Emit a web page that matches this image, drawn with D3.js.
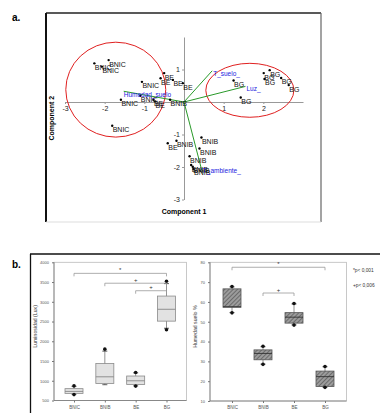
<!DOCTYPE html>
<html>
<head>
<meta charset="utf-8">
<script src="https://cdn.jsdelivr.net/npm/d3@7"></script>
<style>
  body { margin: 0; background: #fff; }
  svg { display: block; font-family: Arial, "Liberation Sans", sans-serif; }
</style>
</head>
<body>
<script>
// ---- panel a: PCA biplot ----
const pcaGroup = ["BNIC","BNIC","BNIC","BNIC","BNIC","BNIC","BNIC",
                  "BE","BE","BE","BE","BE","BE","BE",
                  "BNIB","BNIB","BNIB","BNIB","BNIB","BNIB","BNIB","BNIB",
                  "BG","BG","BG","BG","BG","BG","BG"];
const pcaX = [-2.26, -1.90, -2.07, -1.06, -1.59, -1.10, -1.81,
              -0.50, -0.59, -0.28, -0.03, -0.77, -0.73, -0.41,
              -0.35, -0.19, 0.44, 0.39, 0.14, 0.18, 0.22, 0.24,
              1.25, 1.43, 2.01, 2.16, 2.03, 2.45, 2.64];
const pcaY = [1.19, 1.29, 1.09, 0.62, 0.07, 0.19, -0.73,
              0.89, 0.73, 0.68, 0.58, 0.07, 0.02, -1.27,
              0.07, -1.19, -1.09, -1.43, -1.67, -1.94, -1.99, -2.06,
              0.66, 0.14, 0.89, 0.98, 0.71, 0.74, 0.52];

const vecNames = ["Humedad_suelo", "T_suelo_", "Luz_", "T_ambiente_"];
const vecX = [-1.52, 0.71, 1.55, 0.45];
const vecY = [0.33, 0.96, 0.48, -2.11];

const ellCx = [-1.72, 1.66];
const ellCy = [0.38, 0.36];
const ellRx = [1.26, 1.11];
const ellRy = [1.46, 0.83];

const pcaXTicks = [-3, -2, -1, 1, 2];
const pcaYTicks = [-3, -2, -1, 1];

// ---- panel b: box plots ----
const sites = ["BNIC", "BNIB", "BE", "BG"];

const luzQ1  = [680, 930, 905, 2510];
const luzMed = [730, 1100, 1000, 2810];
const luzQ3  = [800, 1435, 1120, 3145];
const luzLo  = [660, 900, 870, 2330];
const luzHi  = [860, 1750, 1200, 3460];
const luzPtLo = [650, null, 865, 2290];
const luzPtHi = [870, 1800, 1210, 3520];
const luzTicks = [500, 1000, 1500, 2000, 2500, 3000, 3500, 4000];

const humQ1  = [57.3, 30.8, 49.3, 17.3];
const humMed = [57.6, 34.0, 52.3, 22.3];
const humQ3  = [66.6, 35.8, 54.6, 25.1];
const humLo  = [54.6, 28.6, 48.4, 17.0];
const humHi  = [67.6, 37.4, 59.0, 27.3];
const humPtLo = [54.5, 28.5, 48.3, 16.9];
const humPtHi = [67.8, 37.6, 59.2, 27.4];
const humTicks = [10, 20, 30, 40, 50, 60, 70, 80];

// brackets: [from, to, level, symbol]
const luzBrackets = [["BNIC", "BG", 3720, "*"], ["BNIB", "BG", 3470, "+"], ["BE", "BG", 3280, "+"]];
const humBrackets = [["BNIC", "BG", 77.5, "*"], ["BNIB", "BE", 64.5, "+"]];
const legendLines = ["*p< 0,001", "+p< 0,006"];

const W = 380, H = 419;
const svg = d3.select("body").append("svg").attr("width", W).attr("height", H);

// ================= panel a =================
svg.append("text").attr("x", 12).attr("y", 21)
  .attr("font-size", 10).attr("font-weight", "bold").text("a.");

// frame
svg.append("line").attr("x1", 46).attr("x2", 321).attr("y1", 13).attr("y2", 13)
  .attr("stroke", "#222").attr("stroke-width", 1.4);
svg.append("line").attr("x1", 46).attr("x2", 46).attr("y1", 13).attr("y2", 222)
  .attr("stroke", "#111").attr("stroke-width", 2);
svg.append("line").attr("x1", 321).attr("x2", 321).attr("y1", 13).attr("y2", 222)
  .attr("stroke", "#666").attr("stroke-width", 1.2);
svg.append("line").attr("x1", 46).attr("x2", 321).attr("y1", 222).attr("y2", 222)
  .attr("stroke", "#ddd").attr("stroke-width", 1);

const xA = d3.scaleLinear().domain([-3, 3]).range([65, 303]);
const yA = d3.scaleLinear().domain([-3, 2]).range([199.5, 37]);

const gA = svg.append("g");

const axX = gA.append("g").attr("transform", `translate(0,${yA(0)})`)
  .call(d3.axisBottom(xA).tickValues(pcaXTicks).tickFormat(d => String(d))
    .tickSize(2).tickSizeOuter(0).tickPadding(2));
const axY = gA.append("g").attr("transform", `translate(${xA(0)},0)`)
  .call(d3.axisLeft(yA).tickValues(pcaYTicks).tickFormat(d => String(d))
    .tickSize(2).tickSizeOuter(0).tickPadding(2));
[axX, axY].forEach(ax => {
  ax.select(".domain").attr("stroke", "#999");
  ax.selectAll(".tick line").attr("stroke", "#999");
  ax.selectAll(".tick text").attr("font-size", 7).attr("fill", "#222")
    .attr("font-family", "Arial, 'Liberation Sans', sans-serif");
});

// ellipses
gA.selectAll("ellipse.grp").data(ellCx).join("ellipse")
  .attr("cx", (d, i) => xA(ellCx[i]))
  .attr("cy", (d, i) => yA(ellCy[i]))
  .attr("rx", (d, i) => xA(ellRx[i]) - xA(0))
  .attr("ry", (d, i) => yA(0) - yA(ellRy[i]))
  .attr("fill", "none").attr("stroke", "#e02020").attr("stroke-width", 1);

// loading vectors
gA.selectAll("line.vec").data(vecNames).join("line")
  .attr("x1", xA(0)).attr("y1", yA(0))
  .attr("x2", (d, i) => xA(vecX[i])).attr("y2", (d, i) => yA(vecY[i]))
  .attr("stroke", "#2a9a2a").attr("stroke-width", 1);

// points
const pts = d3.range(pcaX.length);
gA.selectAll("circle.pt").data(pts).join("circle")
  .attr("cx", i => xA(pcaX[i])).attr("cy", i => yA(pcaY[i]))
  .attr("r", 1.2).attr("fill", "#000");
gA.selectAll("text.pt").data(pts).join("text")
  .attr("x", i => xA(pcaX[i]) + 0.5).attr("y", i => yA(pcaY[i]) + 6.5)
  .attr("font-size", 7).attr("fill", "#111").text(i => pcaGroup[i]);

// vector labels
gA.selectAll("text.vec").data(vecNames).join("text")
  .attr("x", (d, i) => xA(vecX[i]) + (i === 0 ? 0 : 1))
  .attr("y", (d, i) => yA(vecY[i]) + (i === 0 ? 6 : i === 3 ? 2 : 5))
  .attr("font-size", 6.5).attr("fill", "#1a1ae0").text(d => d);

// axis titles
gA.append("text").attr("x", xA(0)).attr("y", 214).attr("text-anchor", "middle")
  .attr("font-size", 7).attr("font-weight", "bold").text("Component 1");
gA.append("text").attr("transform", `translate(54,${yA(-0.5)}) rotate(-90)`)
  .attr("text-anchor", "middle")
  .attr("font-size", 7).attr("font-weight", "bold").text("Component 2");

// ================= panel b =================
svg.append("text").attr("x", 12).attr("y", 268)
  .attr("font-size", 10).attr("font-weight", "bold").text("b.");
svg.append("line").attr("x1", 30).attr("x2", 380).attr("y1", 254).attr("y2", 254)
  .attr("stroke", "#111").attr("stroke-width", 1.3);
svg.append("line").attr("x1", 30.5).attr("x2", 30.5).attr("y1", 254).attr("y2", 413)
  .attr("stroke", "#111").attr("stroke-width", 1.3);

const defs = svg.append("defs");
const pat = defs.append("pattern").attr("id", "hatch")
  .attr("patternUnits", "userSpaceOnUse").attr("width", 3).attr("height", 3)
  .attr("patternTransform", "rotate(45)");
pat.append("rect").attr("width", 3).attr("height", 3).attr("fill", "#9c9c9c");
pat.append("line").attr("x1", 0).attr("x2", 0).attr("y1", 0).attr("y2", 3)
  .attr("stroke", "#555").attr("stroke-width", 1.4);

function boxPanel(opt) {
  const { x0, x1, yTop, yBot, xr, yDomain, ticks, q1, med, q3, lo, hi, ptLo, ptHi,
          fill, stroke, medStroke, title, titleX, brackets } = opt;
  const g = svg.append("g");
  const x = d3.scalePoint().domain(sites).range(xr);
  const y = d3.scaleLinear().domain(yDomain).range([yBot, yTop]);

  // frame
  g.append("rect").attr("x", x0).attr("y", yTop).attr("width", x1 - x0).attr("height", yBot - yTop)
    .attr("fill", "none").attr("stroke", "#bbb").attr("stroke-width", 0.8);
  g.append("line").attr("x1", x0).attr("x2", x0).attr("y1", yTop).attr("y2", yBot)
    .attr("stroke", "#777").attr("stroke-width", 0.8);
  g.append("line").attr("x1", x0).attr("x2", x1).attr("y1", yBot).attr("y2", yBot)
    .attr("stroke", "#777").attr("stroke-width", 0.8);

  const ay = g.append("g").attr("transform", `translate(${x0},0)`)
    .call(d3.axisLeft(y).tickValues(ticks).tickSize(2).tickSizeOuter(0).tickPadding(3)
      .tickFormat(d => String(d)));
  ay.select(".domain").remove();
  ay.selectAll(".tick line").attr("stroke", "#777");
  ay.selectAll(".tick text").attr("font-size", 4).attr("fill", "#555")
    .attr("font-family", "Arial, 'Liberation Sans', sans-serif");

  const ax = g.append("g").attr("transform", `translate(0,${yBot})`)
    .call(d3.axisBottom(x).tickSize(2).tickSizeOuter(0).tickPadding(3));
  ax.select(".domain").remove();
  ax.selectAll(".tick line").attr("stroke", "#777");
  ax.selectAll(".tick text").attr("font-size", 4.5).attr("fill", "#555")
    .attr("font-family", "Arial, 'Liberation Sans', sans-serif");

  const bw = 18;
  const idx = d3.range(sites.length);
  // whiskers
  g.selectAll("line.wh").data(idx).join("line")
    .attr("x1", i => x(sites[i])).attr("x2", i => x(sites[i]))
    .attr("y1", i => y(lo[i])).attr("y2", i => y(hi[i]))
    .attr("stroke", "#777").attr("stroke-width", 0.8);
  g.selectAll("line.caphi").data(idx).join("line")
    .attr("x1", i => x(sites[i]) - 2.5).attr("x2", i => x(sites[i]) + 2.5)
    .attr("y1", i => y(hi[i])).attr("y2", i => y(hi[i]))
    .attr("stroke", "#333").attr("stroke-width", 0.8);
  g.selectAll("line.caplo").data(idx).join("line")
    .attr("x1", i => x(sites[i]) - 2.5).attr("x2", i => x(sites[i]) + 2.5)
    .attr("y1", i => y(lo[i])).attr("y2", i => y(lo[i]))
    .attr("stroke", "#333").attr("stroke-width", 0.8);
  // boxes
  g.selectAll("rect.box").data(idx).join("rect")
    .attr("x", i => x(sites[i]) - bw / 2).attr("width", bw)
    .attr("y", i => y(q3[i])).attr("height", i => y(q1[i]) - y(q3[i]))
    .attr("fill", fill).attr("stroke", stroke).attr("stroke-width", 0.8);
  g.selectAll("line.med").data(idx).join("line")
    .attr("x1", i => x(sites[i]) - bw / 2).attr("x2", i => x(sites[i]) + bw / 2)
    .attr("y1", i => y(med[i])).attr("y2", i => y(med[i]))
    .attr("stroke", medStroke).attr("stroke-width", 0.9);
  // extreme dots
  const dots = [];
  idx.forEach(i => {
    if (ptLo[i] != null) dots.push([sites[i], ptLo[i]]);
    if (ptHi[i] != null) dots.push([sites[i], ptHi[i]]);
  });
  g.selectAll("circle.ext").data(dots).join("circle")
    .attr("cx", d => x(d[0])).attr("cy", d => y(d[1])).attr("r", 1.8).attr("fill", "#111");

  // significance brackets
  brackets.forEach(([a, b, lev, sym]) => {
    const yy = y(lev);
    g.append("path")
      .attr("d", `M${x(a)},${yy + 3}V${yy}H${x(b)}V${yy + 3}`)
      .attr("fill", "none").attr("stroke", "#999").attr("stroke-width", 0.8);
    g.append("text").attr("x", (x(a) + x(b)) / 2).attr("y", yy - 1.5)
      .attr("text-anchor", "middle").attr("font-size", 6).attr("fill", "#333").text(sym);
  });

  g.append("text").attr("transform", `translate(${titleX},${(yTop + yBot) / 2 - 5}) rotate(-90)`)
    .attr("text-anchor", "middle").attr("font-size", 5.2).attr("fill", "#333").text(title);
  return g;
}

boxPanel({
  x0: 54, x1: 186.5, yTop: 262.3, yBot: 400.5, xr: [74, 166.5],
  yDomain: [500, 4000], ticks: luzTicks,
  q1: luzQ1, med: luzMed, q3: luzQ3, lo: luzLo, hi: luzHi, ptLo: luzPtLo, ptHi: luzPtHi,
  fill: "#e2e2e2", stroke: "#8a8a8a", medStroke: "#888",
  title: "Luminosidad (Lux)", titleX: 37, brackets: luzBrackets
});

boxPanel({
  x0: 210, x1: 346.5, yTop: 262.3, yBot: 401, xr: [232, 325],
  yDomain: [10, 80], ticks: humTicks,
  q1: humQ1, med: humMed, q3: humQ3, lo: humLo, hi: humHi, ptLo: humPtLo, ptHi: humPtHi,
  fill: "url(#hatch)", stroke: "#555", medStroke: "#333",
  title: "Humedad suelo %", titleX: 197, brackets: humBrackets
});

svg.selectAll("text.leg").data(legendLines).join("text")
  .attr("x", 353).attr("y", (d, i) => 272 + i * 15)
  .attr("font-size", 4.8).attr("fill", "#333").text(d => d);
</script>
</body>
</html>
